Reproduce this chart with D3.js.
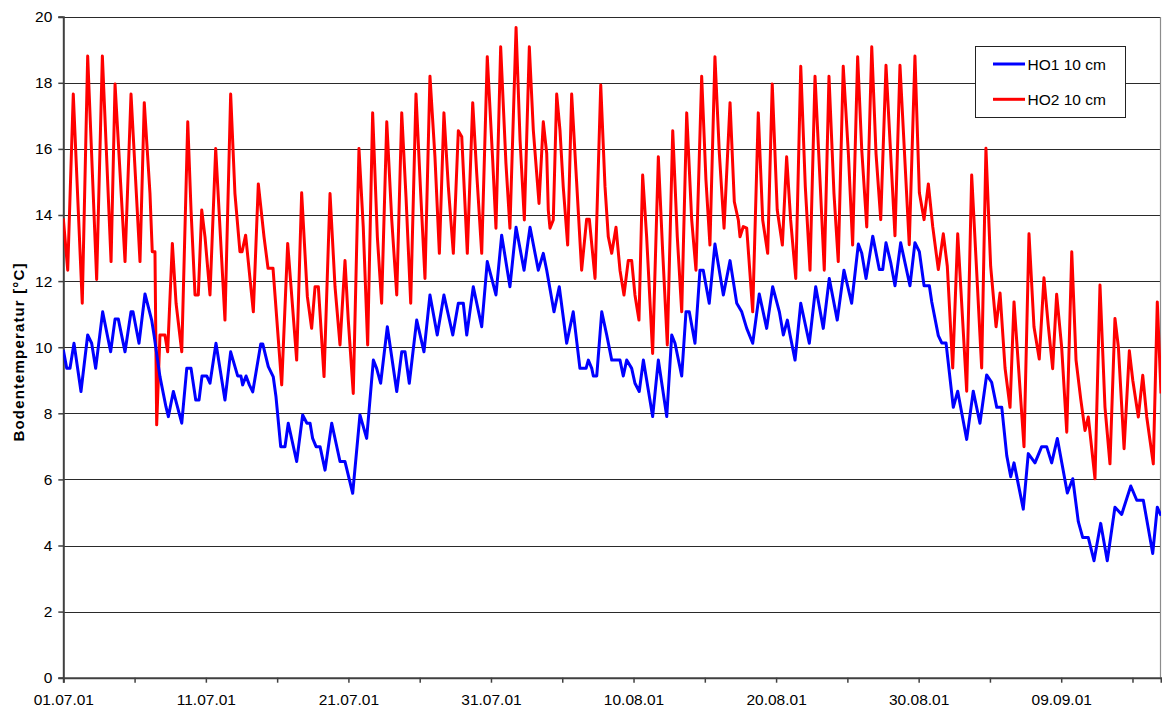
<!DOCTYPE html>
<html>
<head>
<meta charset="utf-8">
<script src="https://cdn.jsdelivr.net/npm/d3@7"></script>
<style>
  html, body { margin: 0; padding: 0; background: #fff; }
  svg { display: block; font-family: "Liberation Sans", Arial, sans-serif; }
</style>
</head>
<body>
<svg id="chart" width="1162" height="713"></svg>
<script>
// ---- data (time in days after 01.07.01 00:00, temperature in °C) ----
const seriesNames = ["HO1 10 cm", "HO2 10 cm"];
const seriesColors = ["#0000ff", "#ff0000"];

const ho1Days = [0,0.24,0.47,0.75,1.24,1.71,1.99,2.27,2.76,3.32,3.63,3.86,4.33,4.75,4.89,5.31,5.73,6.20,6.38,6.78,
  7.20,7.37,7.72,8.31,8.66,8.96,9.29,9.52,9.73,10.06,10.29,10.71,11.34,11.74,12.23,12.46,12.58,12.82,13.05,13.29,
  13.85,13.99,14.38,14.73,14.92,15.25,15.55,15.78,16.37,16.79,17.09,17.31,17.49,17.73,18.01,18.36,18.83,19.41,19.76,20.30,
  20.81,21.28,21.75,21.98,22.26,22.73,23.39,23.74,23.97,24.27,24.79,25.30,25.72,26.23,26.70,27.32,27.71,28.06,28.30,28.76,
  29.35,29.74,30.05,30.35,30.75,31.33,31.76,32.32,32.74,33.32,33.67,33.91,34.42,34.79,35.31,35.77,36.24,36.67,36.83,37.07,
  37.18,37.42,37.77,38.12,38.47,39.05,39.28,39.52,39.87,40.10,40.40,40.69,41.34,41.74,42.33,42.68,42.91,43.38,43.68,43.91,
  44.31,44.66,44.89,45.31,45.71,46.30,46.77,47.24,47.59,47.94,48.36,48.82,49.34,49.76,50.23,50.51,50.79,50.98,51.33,51.73,
  52.33,52.78,53.31,53.73,54.29,54.76,55.30,55.77,56.01,56.31,56.78,57.24,57.48,57.71,58.04,58.34,58.74,59.39,59.74,60.05,
  60.38,60.75,60.92,61.38,61.62,61.92,62.43,62.74,63.37,63.83,64.30,64.77,65.12,65.48,65.83,66.18,66.46,66.69,67.34,67.69,
  68.16,68.63,68.98,69.33,69.73,70.43,70.81,71.20,71.51,71.90,72.30,72.77,73.23,73.77,74.24,74.88,75.30,75.76,76.42,76.74,77.00];
const ho1Temp = [9.92,9.36,9.36,10.12,8.66,10.37,10.12,9.36,11.07,9.86,10.85,10.85,9.86,11.07,11.07,10.12,11.61,10.82,10.32,9.11,
  8.20,7.90,8.66,7.70,9.36,9.36,8.40,8.40,9.13,9.13,8.91,10.12,8.40,9.86,9.13,9.13,8.86,9.13,8.86,8.65,
  10.10,10.10,9.41,9.10,8.50,6.99,6.99,7.70,6.54,7.95,7.70,7.70,7.24,6.99,6.99,6.28,7.70,6.54,6.54,5.58,
  7.95,7.24,9.61,9.36,8.91,10.62,8.66,9.86,9.86,8.91,10.82,9.86,11.58,10.37,11.58,10.37,11.33,11.33,10.37,11.83,
  10.62,12.59,12.08,11.58,13.39,11.83,13.63,12.33,13.63,12.33,12.84,12.33,11.07,11.83,10.12,11.07,9.36,9.36,9.61,9.36,
  9.13,9.13,11.07,10.37,9.61,9.61,9.13,9.61,9.36,8.91,8.66,9.61,7.90,9.61,7.90,10.37,10.12,9.13,11.07,11.07,
  10.12,12.33,12.33,11.33,13.12,11.58,12.62,11.33,11.07,10.57,10.12,11.61,10.57,11.83,11.07,10.37,10.82,10.37,9.61,11.33,
  10.12,11.83,10.57,12.08,10.82,12.33,11.33,13.12,12.84,12.08,13.36,12.35,12.35,13.16,12.56,11.86,13.16,11.86,13.16,12.89,
  11.86,11.86,11.37,10.35,10.13,10.13,8.18,8.67,7.21,8.67,7.70,9.16,8.94,8.18,8.18,6.72,6.08,6.50,5.10,6.78,
  6.50,6.99,6.99,6.50,7.24,5.59,6.02,4.72,4.24,4.24,3.54,4.67,3.54,5.16,4.94,5.80,5.37,5.37,3.76,5.16,4.90];

const ho2Days = [0,0.31,0.70,1.33,1.71,2.34,2.74,3.35,3.63,4.33,4.75,5.38,5.68,6.08,6.24,6.43,6.55,6.78,7.13,7.32,
  7.65,7.91,8.31,8.73,8.96,9.24,9.47,9.71,9.94,10.29,10.69,11.34,11.74,12.04,12.39,12.54,12.79,13.33,13.68,14.08,
  14.36,14.71,15.32,15.74,16.37,16.72,17.12,17.42,17.66,17.89,18.29,18.71,19.06,19.41,19.76,19.99,20.34,20.74,21.04,21.35,
  21.70,22.03,22.33,22.69,23.04,23.39,23.74,24.04,24.37,24.74,25.07,25.37,25.72,26.07,26.38,26.70,27.01,27.36,27.71,27.95,
  28.34,28.72,29.00,29.35,29.74,30.12,30.35,30.68,31.05,31.33,31.76,32.04,32.34,32.69,32.97,33.37,33.67,33.91,34.02,34.14,
  34.37,34.61,34.84,35.07,35.38,35.66,35.96,36.36,36.71,36.90,37.30,37.70,38.00,38.23,38.47,38.77,39.05,39.33,39.63,39.87,
  40.10,40.38,40.64,40.92,41.34,41.74,42.05,42.37,42.75,43.07,43.38,43.73,44.08,44.38,44.78,45.08,45.36,45.71,46.02,46.35,
  46.77,47.07,47.35,47.47,47.70,47.94,48.36,48.75,49.06,49.41,49.73,50.08,50.44,50.74,51.02,51.38,51.73,52.05,52.38,52.73,
  53.08,53.38,53.71,54.06,54.36,54.71,55.07,55.37,55.72,56.01,56.36,56.71,57.01,57.34,57.71,58.34,58.69,59.34,59.74,60.05,
  60.38,60.68,60.99,61.38,61.73,62.01,62.39,62.74,63.37,63.72,64.42,64.72,65.05,65.43,65.71,66.06,66.41,66.69,67.39,67.74,
  68.09,68.46,68.79,69.09,69.40,69.68,70.03,70.39,70.74,71.04,71.37,71.67,71.90,72.37,72.72,73.07,73.42,73.77,74.01,74.41,
  74.78,75.02,75.41,75.72,76.00,76.46,76.74,77.00];
const ho2Temp = [13.90,12.33,17.66,11.33,18.81,12.05,18.81,12.59,17.96,12.59,17.66,12.59,17.40,14.65,12.89,12.89,7.65,10.37,10.37,9.86,
  13.14,11.33,9.86,16.82,14.15,11.58,11.58,14.15,13.34,11.58,16.01,10.82,17.66,14.65,12.89,12.89,13.39,11.07,14.94,13.34,
  12.39,12.39,8.86,13.14,9.61,14.67,11.53,10.57,11.83,11.83,9.11,14.65,11.83,10.07,12.62,10.82,8.60,16.01,13.65,10.07,
  17.09,13.34,11.33,16.82,13.85,11.58,17.09,14.55,11.33,17.66,14.65,12.08,18.20,15.76,12.84,17.09,14.85,12.84,16.55,16.37,
  12.84,17.40,15.26,12.84,18.79,15.66,13.60,19.09,15.56,13.60,19.67,16.27,13.85,19.09,16.57,14.35,16.82,15.86,14.15,13.60,
  13.85,17.66,16.57,14.85,13.09,17.66,15.36,12.33,13.87,13.87,12.08,17.93,14.85,13.34,12.84,13.63,12.33,11.58,12.62,12.62,
  11.58,10.82,15.21,13.34,9.81,15.76,12.84,10.07,16.55,13.34,11.07,17.09,13.85,12.33,18.20,15.06,13.09,18.79,15.86,13.60,
  17.40,14.40,13.85,13.34,13.65,13.60,11.07,17.09,13.85,12.84,17.96,14.15,13.09,15.76,13.85,12.08,18.50,14.85,12.33,18.20,
  15.06,12.33,18.20,14.65,12.59,18.50,15.86,13.09,18.79,15.96,13.64,19.09,15.86,13.86,18.53,13.37,18.53,13.10,18.81,14.67,
  13.86,14.94,13.64,12.35,13.43,12.45,9.37,13.43,8.67,15.21,9.37,16.02,12.45,10.62,11.64,9.37,8.18,11.37,6.99,13.43,
  10.62,9.64,12.10,10.67,9.35,11.60,10.01,7.43,12.89,9.61,8.43,7.48,7.89,6.02,11.88,8.19,6.47,10.87,10.01,6.93,
  9.89,9.00,7.89,9.15,7.89,6.47,11.37,8.60];

const yTicks = [0, 2, 4, 6, 8, 10, 12, 14, 16, 18, 20];
const xTickDays = [0, 5, 10, 15, 20, 25, 30, 35, 40, 45, 50, 55, 60, 65, 70, 75];
const xLabelDays = [0, 10, 20, 30, 40, 50, 60, 70];
const startDate = Date.UTC(2001, 6, 1);
const endDays = 77;
const yLabel = "Bodentemperatur [°C]";

// ---- drawing ----
const svg = d3.select("#chart");
const mLeft = 63.3, mRight = 1161, mTop = 16.7, mBottom = 677.7;
const toDate = d => new Date(startDate + d * 86400000);

const x = d3.scaleUtc().domain([toDate(0), toDate(endDays)]).range([mLeft, mRight]);
const y = d3.scaleLinear().domain([0, 20]).range([mBottom, mTop]);
const fmt = d3.utcFormat("%d.%m.%y");

// gridlines
svg.append("g").selectAll("line").data(yTicks.filter(v => v > 0)).join("line")
  .attr("x1", mLeft).attr("x2", mRight)
  .attr("y1", d => Math.round(y(d)) + 0.5).attr("y2", d => Math.round(y(d)) + 0.5)
  .attr("stroke", "#2a2a2a").attr("stroke-width", 1);

// right border
svg.append("line").attr("x1", mRight - 0.5).attr("x2", mRight - 0.5)
  .attr("y1", Math.round(y(20))).attr("y2", mBottom)
  .attr("stroke", "#8c8c8c").attr("stroke-width", 1.2);

// y axis
const yAxis = d3.axisLeft(y).tickValues(yTicks).tickSize(5).tickPadding(6).tickFormat(d3.format("d"));
const gy = svg.append("g").attr("transform", `translate(${mLeft},0)`).call(yAxis);
gy.select(".domain").attr("stroke", "#404040").attr("stroke-width", 2);
gy.selectAll(".tick line").attr("stroke", "#404040").attr("stroke-width", 1.5);
gy.selectAll(".tick text").attr("font-size", "15.5px").attr("fill", "#000")
  .attr("font-family", "'Liberation Sans', Arial, sans-serif");

// x axis
const xAxis = d3.axisBottom(x).tickValues(xTickDays.map(toDate)).tickSize(5).tickPadding(11)
  .tickFormat(d => {
    const dd = Math.round((d - startDate) / 86400000);
    return xLabelDays.includes(dd) ? fmt(d) : "";
  });
const gx = svg.append("g").attr("transform", `translate(0,${mBottom})`).call(xAxis);
gx.select(".domain").attr("stroke", "#404040").attr("stroke-width", 2);
gx.selectAll(".tick line").attr("stroke", "#404040").attr("stroke-width", 1.5);
gx.selectAll(".tick text").attr("font-size", "15.5px").attr("fill", "#000")
  .attr("font-family", "'Liberation Sans', Arial, sans-serif");

// series
const line = d3.line().x(p => x(toDate(p[0]))).y(p => y(p[1]));
const series = [
  { name: seriesNames[0], color: seriesColors[0], pts: d3.zip(ho1Days, ho1Temp) },
  { name: seriesNames[1], color: seriesColors[1], pts: d3.zip(ho2Days, ho2Temp) }
];
svg.append("defs").append("clipPath").attr("id", "clip")
  .append("rect").attr("x", mLeft).attr("y", mTop - 5).attr("width", mRight - mLeft).attr("height", mBottom - mTop + 5);
const gl = svg.append("g").attr("clip-path", "url(#clip)");
[series[1], series[0]].forEach(s => {
  gl.append("path").datum(s.pts).attr("d", line)
    .attr("fill", "none").attr("stroke", s.color).attr("stroke-width", 3)
    .attr("stroke-linejoin", "round").attr("stroke-linecap", "butt");
});

// y label
svg.append("text")
  .attr("transform", "translate(23.5,352.5) rotate(-90)")
  .attr("text-anchor", "middle")
  .attr("font-size", "15px").attr("font-weight", "bold")
  .attr("textLength", 178).attr("lengthAdjust", "spacing")
  .text(yLabel);

// legend
const lg = svg.append("g");
lg.append("rect").attr("x", 975.5).attr("y", 46.5).attr("width", 150).attr("height", 71)
  .attr("fill", "#fff").attr("stroke", "#222").attr("stroke-width", 1);
series.forEach((s, i) => {
  const ly = 64 + i * 35.3;
  lg.append("line").attr("x1", 993).attr("x2", 1025).attr("y1", ly).attr("y2", ly)
    .attr("stroke", s.color).attr("stroke-width", 3);
  lg.append("text").attr("x", 1027.5).attr("y", ly + 5.8)
    .attr("font-size", "15.5px").attr("fill", "#000").text(s.name);
});
</script>
</body>
</html>
